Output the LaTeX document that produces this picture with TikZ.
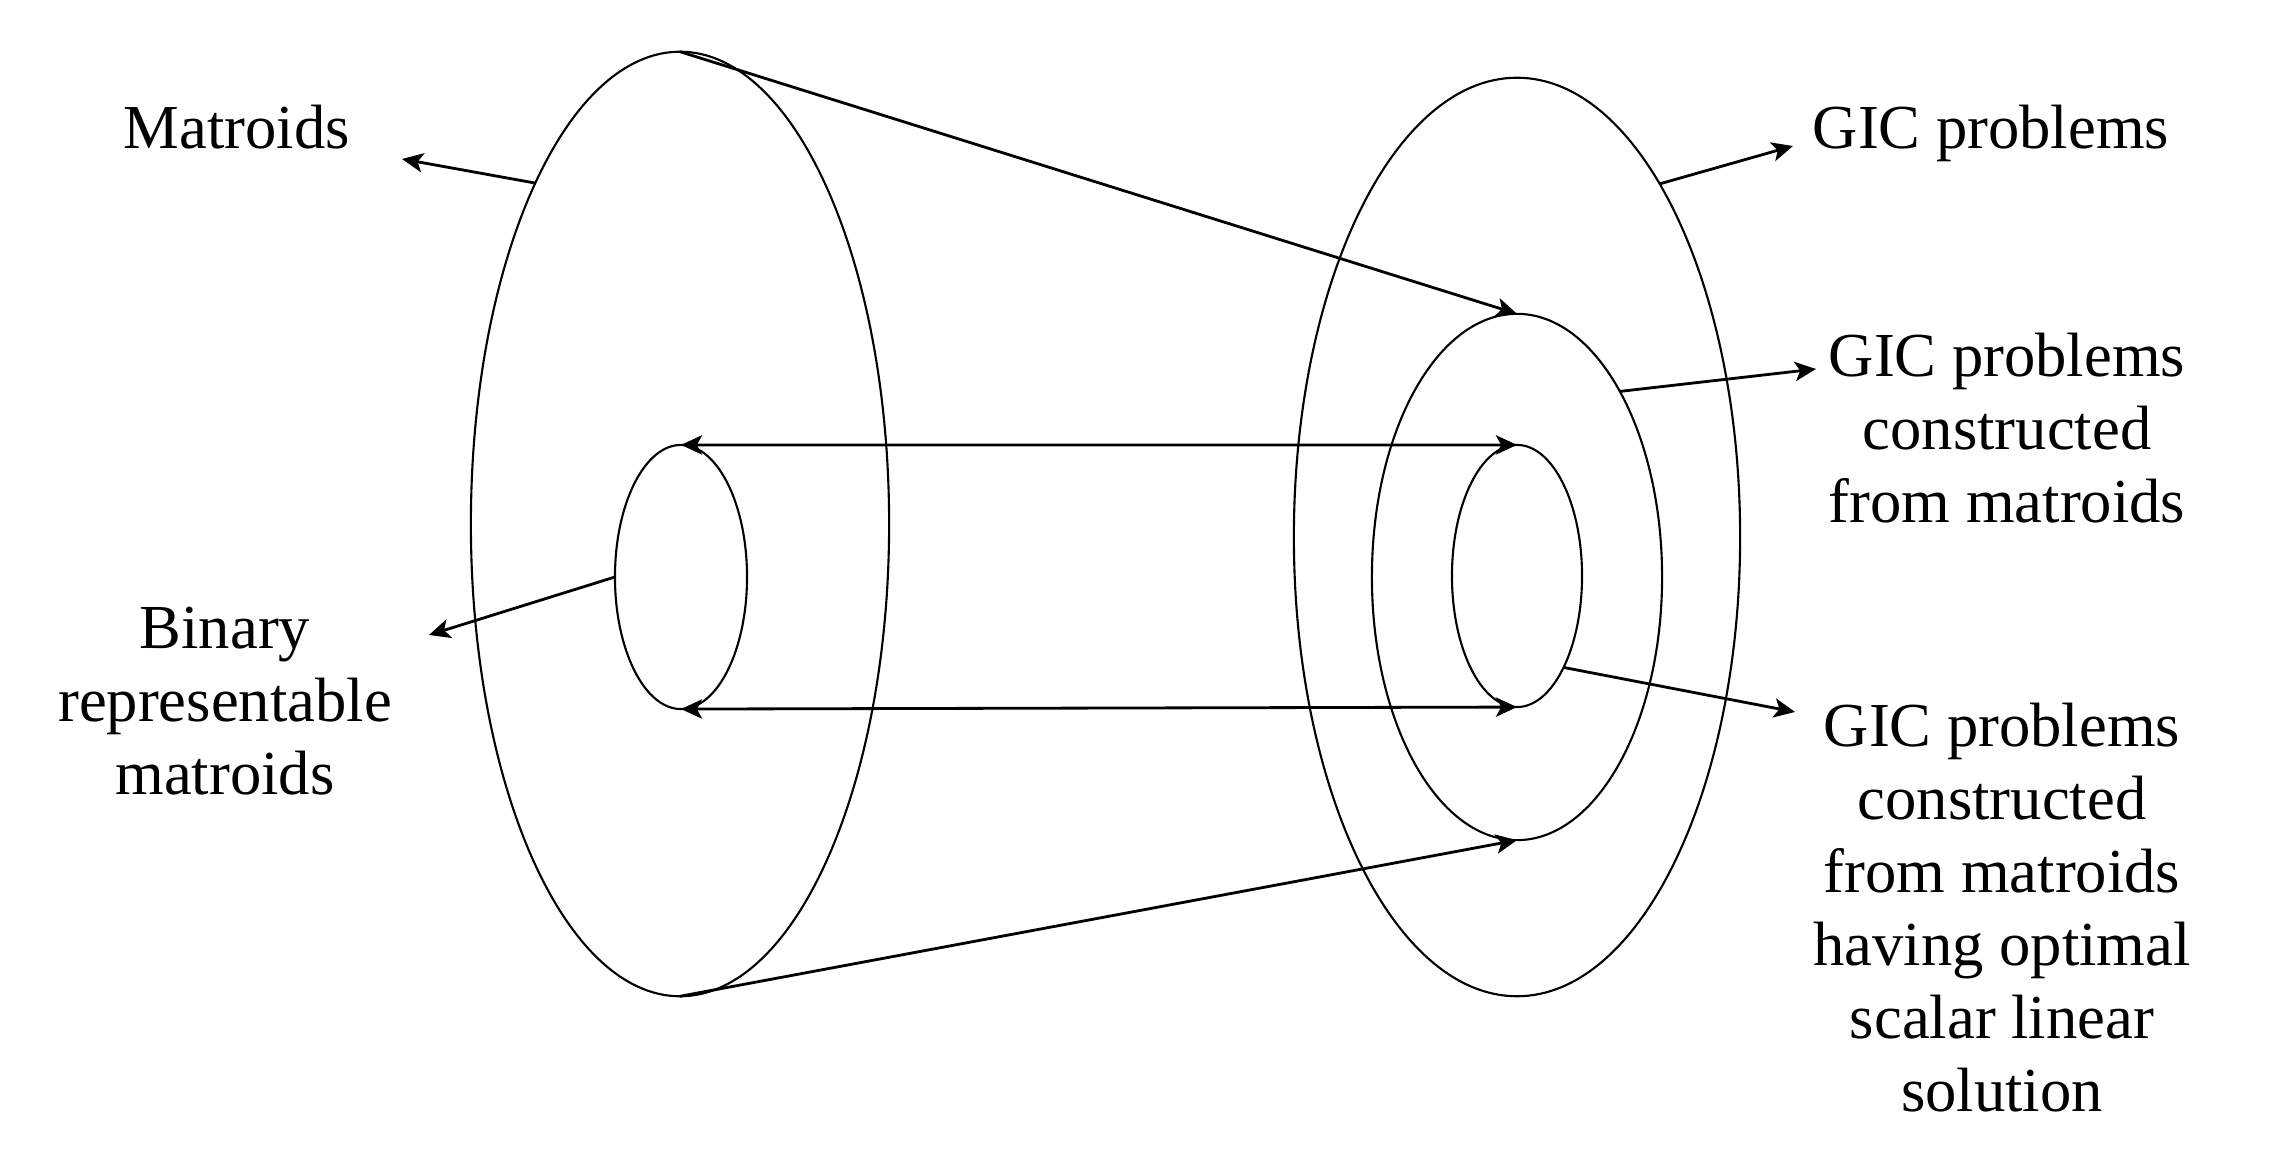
\documentclass[tikz,border=0pt]{standalone}
\usepackage{fontspec}
\setmainfont{Liberation Serif}
\usetikzlibrary{shapes.geometric,arrows.meta}
\tikzset{
  ring/.style={draw=black, line width=0.6pt, ellipse, inner sep=0pt, outer sep=0pt},
  conn/.style={draw=black, line width=0.8pt, -{Stealth[length=6pt,width=5.5pt,inset=1.5pt]}},
  biconn/.style={draw=black, line width=0.8pt, {Stealth[length=6pt,width=5.5pt,inset=1.5pt]}-{Stealth[length=6pt,width=5.5pt,inset=1.5pt]}},
  lbl/.style={align=center, inner sep=0pt, anchor=north, font=\fontsize{17.8pt}{20.77pt}\selectfont}
}
\begin{document}
\begin{tikzpicture}[x=0.01cm,y=-0.01cm]
\useasboundingbox (0,0) rectangle (2269,1171);
% ellipses
\node[ring, minimum width=4.18cm, minimum height=9.44cm] (LB) at (680,524) {};
\node[ring, minimum width=1.32cm, minimum height=2.64cm] (LS) at (681,577) {};
\node[ring, minimum width=4.46cm, minimum height=9.18cm] (RB) at (1517,537) {};
\node[ring, minimum width=2.90cm, minimum height=5.26cm] (RM) at (1517,577) {};
\node[ring, minimum width=1.30cm, minimum height=2.62cm] (RS) at (1517,576) {};
% labels
\node[lbl] (tM) at (237,104) {Matroids};
\node[lbl] (tB) at (225,606) {Binary\\representable\\matroids};
\node[lbl] (tG1) at (1991,104) {GIC problems};
\node[lbl] (tG2) at (2007,332) {GIC problems\\constructed\\from matroids};
\node[lbl] (tG3) at (2002,702) {GIC problems\\constructed\\from matroids\\having optimal\\scalar linear\\solution};
% arrow tips
\coordinate (pM) at (402,159);
\coordinate (pB) at (429,635);
\coordinate (pG1) at (1793,146);
\coordinate (pG2) at (1816,369);
\coordinate (pG3) at (1795,712);
% connectors
\draw[biconn] (LS.north) -- (RS.north);
\draw[biconn] (LS.south) -- (RS.south);
\draw[conn] (LB.north) -- (RM.north);
\draw[conn] (LB.south) -- (RM.south);
\draw[conn] (LB.113.8) -- (pM);
\draw[conn] (LS.180) -- (pB);
\draw[conn] (RB.68.9) -- (pG1);
\draw[conn] (RM.61.2) -- (pG2);
\draw[conn] (RS.-63.7) -- (pG3);
\end{tikzpicture}
\end{document}
